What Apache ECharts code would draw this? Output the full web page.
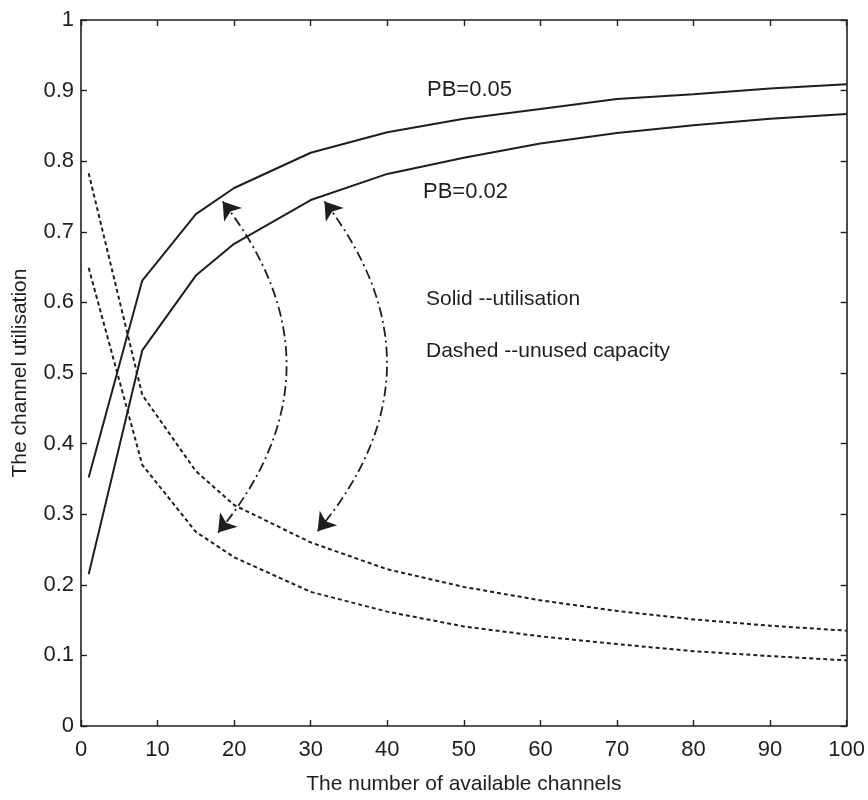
<!DOCTYPE html>
<html>
<head>
<meta charset="utf-8">
<script src="https://cdn.jsdelivr.net/npm/echarts@6/dist/echarts.min.js"></script>
<style>
html,body{margin:0;padding:0;background:#fff;}
#c{width:868px;height:800px;}
</style>
</head>
<body>
<div id="c"></div>
<script>
// Number of available channels (x positions of the plotted points)
const channels = [1, 8, 15, 20, 30, 40, 50, 60, 70, 80, 90, 100];
// Solid: utilisation
const utilPB005 = [0.352, 0.631, 0.725, 0.762, 0.812, 0.841, 0.860, 0.874, 0.888, 0.895, 0.903, 0.909];
const utilPB002 = [0.215, 0.532, 0.638, 0.683, 0.745, 0.782, 0.805, 0.825, 0.840, 0.851, 0.860, 0.867];
// Dashed: unused capacity
const unusedPB002 = [0.783, 0.469, 0.361, 0.313, 0.260, 0.222, 0.197, 0.178, 0.163, 0.151, 0.142, 0.135];
const unusedPB005 = [0.649, 0.370, 0.275, 0.239, 0.190, 0.162, 0.141, 0.127, 0.116, 0.106, 0.099, 0.093];
// Tick values
const xTicks = [0, 10, 20, 30, 40, 50, 60, 70, 80, 90, 100];
const yTicks = [0, 0.1, 0.2, 0.3, 0.4, 0.5, 0.6, 0.7, 0.8, 0.9, 1];
// Annotation arrows (data coordinates: [start, end])
const arrowLeft = [[18.5, 0.743], [17.9, 0.274]];
const arrowRight = [[31.8, 0.743], [30.9, 0.276]];

const pair = (xs, ys) => xs.map((x, i) => [x, ys[i]]);
const FONT = '"Liberation Sans", Arial, sans-serif';
const INK = '#1e1e1e';

const chart = echarts.init(document.getElementById('c'), null, {renderer: 'canvas'});

const axisCommon = {
  axisLine: {show: true, onZero: false, lineStyle: {color: INK, width: 1.6}},
  axisTick: {show: true, inside: true, length: 6, lineStyle: {color: INK, width: 1.4}},
  splitLine: {show: false}
};

const solid = {type: 'solid', color: INK, width: 2};
const dotted = {type: [4, 3], color: INK, width: 2};

chart.setOption({
  animation: false,
  backgroundColor: '#fff',
  grid: {left: 81, right: 20, top: 20, bottom: 73},
  xAxis: [
    Object.assign({
      type: 'value', min: xTicks[0], max: xTicks[xTicks.length - 1], interval: 10,
      name: 'The number of available channels', nameLocation: 'middle', nameGap: 48,
      nameTextStyle: {fontFamily: FONT, fontSize: 21, color: INK},
      axisLabel: {fontFamily: FONT, fontSize: 22, color: INK, margin: 13}
    }, axisCommon),
    Object.assign({
      type: 'value', position: 'top', min: 0, max: 100, interval: 10,
      axisLabel: {show: false}
    }, axisCommon)
  ],
  yAxis: [
    Object.assign({
      type: 'value', min: yTicks[0], max: yTicks[yTicks.length - 1], interval: 0.1,
      name: 'The channel utilisation', nameLocation: 'middle', nameGap: 50,
      nameTextStyle: {fontFamily: FONT, fontSize: 21, color: INK},
      axisLabel: {fontFamily: FONT, fontSize: 22, color: INK, margin: 7}
    }, axisCommon),
    Object.assign({
      type: 'value', position: 'right', min: 0, max: 1, interval: 0.1,
      axisLabel: {show: false}
    }, axisCommon)
  ],
  series: [
    {type: 'line', name: 'util PB=0.05', data: pair(channels, utilPB005), showSymbol: false, lineStyle: solid},
    {type: 'line', name: 'util PB=0.02', data: pair(channels, utilPB002), showSymbol: false, lineStyle: solid},
    {type: 'line', name: 'unused PB=0.02', data: pair(channels, unusedPB002), showSymbol: false, lineStyle: dotted},
    {type: 'line', name: 'unused PB=0.05', data: pair(channels, unusedPB005), showSymbol: false, lineStyle: dotted},
    {
      type: 'lines', coordinateSystem: 'cartesian2d', xAxisIndex: 0, yAxisIndex: 0,
      symbol: ['arrow', 'arrow'], symbolSize: 17,
      lineStyle: {type: [10, 4, 2, 4], color: INK, width: 1.8, opacity: 1, curveness: 0.4},
      itemStyle: {color: INK, opacity: 1},
      data: [{coords: arrowLeft}, {coords: arrowRight}],
      z: 5
    }
  ],
  graphic: [
    {type: 'text', left: 427, top: 79, style: {text: 'PB=0.05', font: '22px ' + FONT, fill: INK}},
    {type: 'text', left: 423, top: 181, style: {text: 'PB=0.02', font: '22px ' + FONT, fill: INK}},
    {type: 'text', left: 426, top: 289, style: {text: 'Solid --utilisation', font: '21px ' + FONT, fill: INK}},
    {type: 'text', left: 426, top: 341, style: {text: 'Dashed --unused capacity', font: '21px ' + FONT, fill: INK}}
  ]
});
</script>
</body>
</html>
